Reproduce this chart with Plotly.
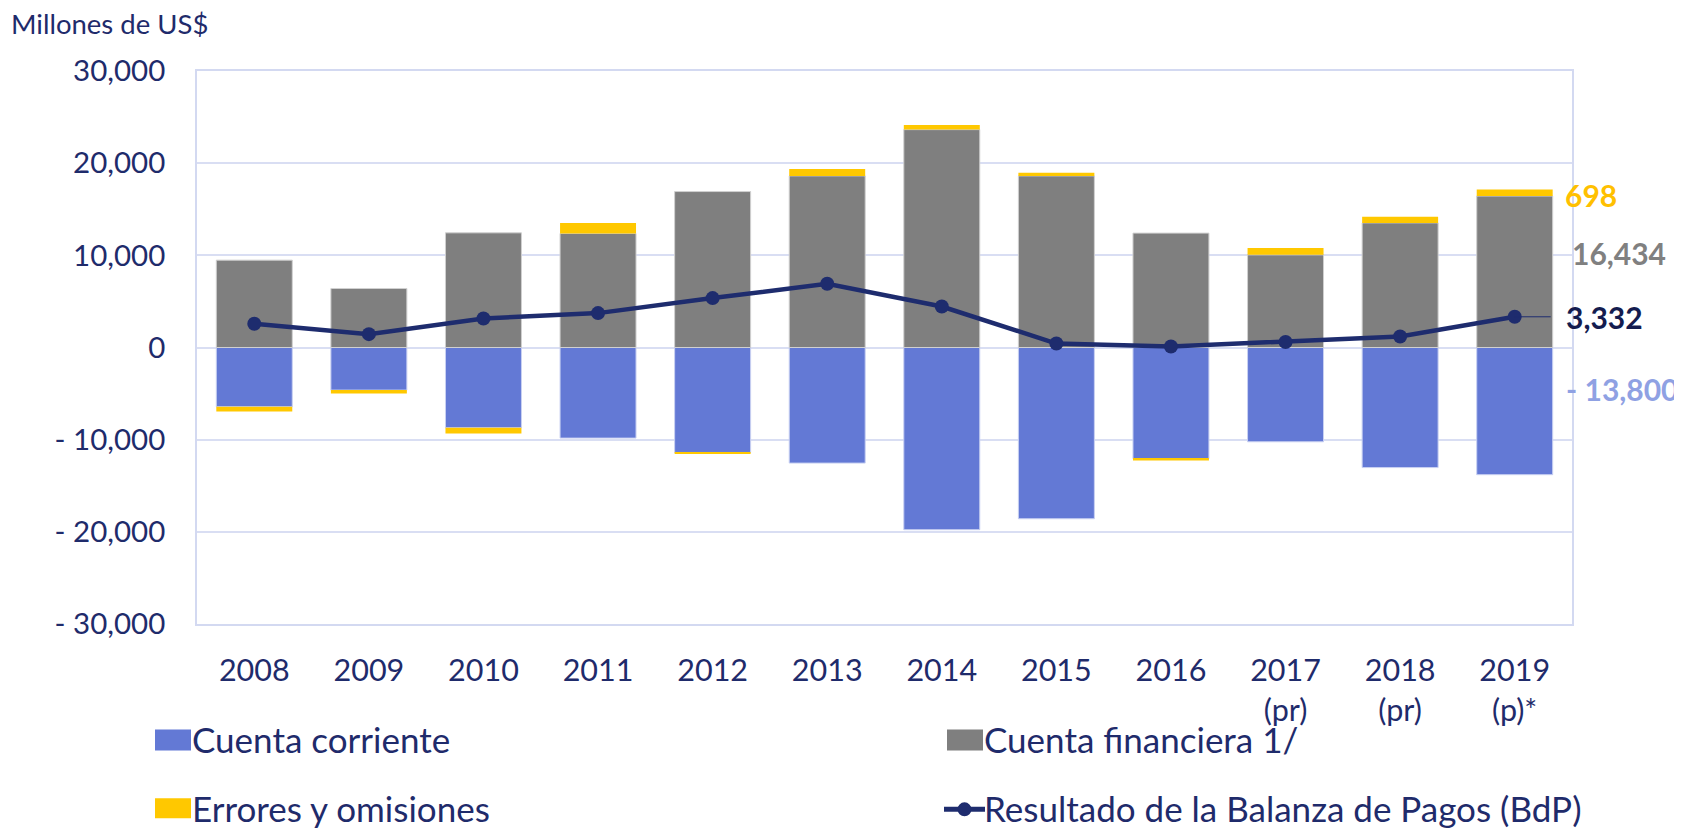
import plotly.graph_objects as go

# ---------------- data ----------------
categorias = ["2008", "2009", "2010", "2011", "2012", "2013", "2014", "2015",
              "2016", "2017<br>(pr)", "2018<br>(pr)", "2019<br>(p)*"]
cuenta_corriente = [-6430, -4620, -8710, -9830, -11390, -12540, -19770, -18580,
                    -12070, -10230, -13030, -13800]
cuenta_financiera = [9480, 6400, 12440, 12370, 16920, 18620, 23640, 18620,
                     12410, 10050, 13520, 16434]
errores_omisiones = [-510, -370, -620, 1150, -170, 760, 510, 330,
                     -200, 740, 660, 698]
resultado_bdp = [2570, 1450, 3150, 3730, 5360, 6910, 4450, 430,
                 110, 590, 1190, 3332]

y_tickvals = [30000, 20000, 10000, 0, -10000, -20000, -30000]
y_ticktext = ["30,000", "20,000", "10,000", "0", "- 10,000", "- 20,000", "- 30,000"]

nombres = ["Cuenta corriente", "Cuenta financiera 1/", "Errores y omisiones",
           "Resultado de la Balanza de Pagos (BdP)"]

# ---------------- style ----------------
FONT = "Lato"
NAVY = "#1F2B6B"
LINE_NAVY = "#1E2C6E"
BLUE = "#6379D5"
GRAY = "#7F7F7F"
GOLD = "#FFC800"
GRID = "#D9DEF3"

# the page body adds an 8px offset; lay the figure out in page pixels
OFF = 8
PAGE_W, PAGE_H = 1682, 828
W, H = PAGE_W - OFF, PAGE_H - OFF
PLOT_L, PLOT_R, PLOT_T, PLOT_B = 197, 1572, 71, 624.5   # page pixels
L, R, T, B = PLOT_L - OFF, PAGE_W - PLOT_R, PLOT_T - OFF, PAGE_H - PLOT_B
PW, PH = PLOT_R - PLOT_L, PLOT_B - PLOT_T


def px_x(x):
    return (x - PLOT_L) / PW


def px_y(y):
    return (PLOT_B - y) / PH


fig = go.Figure()
fig.add_trace(go.Bar(x=categorias, y=cuenta_corriente, name=nombres[0],
                     marker=dict(color=BLUE, line=dict(color="#C9D1F2", width=1))))
fig.add_trace(go.Bar(x=categorias, y=cuenta_financiera, name=nombres[1],
                     marker=dict(color=GRAY, line=dict(color="#D0D0D0", width=1))))
fig.add_trace(go.Bar(x=categorias, y=errores_omisiones, name=nombres[2],
                     marker=dict(color=GOLD, line=dict(color=GOLD, width=0))))
fig.add_trace(go.Scatter(x=categorias, y=resultado_bdp, name=nombres[3],
                         mode="lines+markers",
                         line=dict(color=LINE_NAVY, width=4.5),
                         marker=dict(color=LINE_NAVY, size=14)))

annotations = []
shapes = []

# y-axis unit title
annotations.append(dict(text="Millones de US$", xref="paper", yref="paper",
                        x=px_x(9), y=px_y(23), xanchor="left", yanchor="middle",
                        showarrow=False, font=dict(family=FONT, size=27.5, color=NAVY)))

# right-side value labels
annotations.append(dict(text="<b>698</b>", xref="paper", yref="paper",
                        x=px_x(1563), y=px_y(195), xanchor="left", yanchor="middle",
                        showarrow=False, font=dict(family=FONT, size=30, color="#FFC000")))
annotations.append(dict(text="<b>16,434</b>", xref="paper", yref="paper",
                        x=px_x(1570), y=px_y(253), xanchor="left", yanchor="middle",
                        showarrow=False, font=dict(family=FONT, size=30, color="#808080")))
annotations.append(dict(text="<b>- 13,800</b>", xref="paper", yref="paper",
                        x=px_x(1564), y=px_y(389), xanchor="left", yanchor="middle",
                        showarrow=False, font=dict(family=FONT, size=30, color="#8FA1E3")))
annotations.append(dict(text="<b>3,332</b>", xref="x", yref="y",
                        x=categorias[-1], y=resultado_bdp[-1],
                        ax=90, ay=0, showarrow=True, arrowhead=0, arrowwidth=1,
                        arrowcolor=LINE_NAVY, startstandoff=14,
                        font=dict(family=FONT, size=30, color="#141C4F")))

# custom legend (large swatches like the original)
leg_font = dict(family=FONT, size=35, color=NAVY)
legend_items = [
    (155, 191, 730, 751, BLUE, 190, 740, nombres[0]),
    (947, 983, 730, 751, GRAY, 982, 740, nombres[1]),
    (155, 191, 799, 819, GOLD, 190, 809, nombres[2]),
]
for x0, x1, y0, y1, col, tx, ty, name in legend_items:
    shapes.append(dict(type="rect", xref="paper", yref="paper",
                       x0=px_x(x0), x1=px_x(x1), y0=px_y(y1), y1=px_y(y0),
                       fillcolor=col, line=dict(width=0)))
    annotations.append(dict(text=name, xref="paper", yref="paper",
                            x=px_x(tx), y=px_y(ty), xanchor="left", yanchor="middle",
                            showarrow=False, font=leg_font))
# line + marker legend entry
shapes.append(dict(type="line", xref="paper", yref="paper",
                   x0=px_x(944), x1=px_x(985), y0=px_y(810), y1=px_y(810),
                   line=dict(color=LINE_NAVY, width=5)))
shapes.append(dict(type="circle", xref="paper", yref="paper",
                   x0=px_x(957.5), x1=px_x(971.5), y0=px_y(817), y1=px_y(803),
                   fillcolor=LINE_NAVY, line=dict(width=0)))
annotations.append(dict(text=nombres[3], xref="paper", yref="paper",
                        x=px_x(982), y=px_y(809), xanchor="left", yanchor="middle",
                        showarrow=False, font=leg_font))

fig.update_layout(
    width=W, height=H,
    margin=dict(l=L, r=R, t=T, b=B),
    barmode="relative",
    bargap=0.337,
    showlegend=False,
    paper_bgcolor="white",
    plot_bgcolor="white",
    font=dict(family=FONT, color=NAVY),
    annotations=annotations,
    shapes=shapes,
)
fig.update_yaxes(range=[-30000, 30000], tickvals=y_tickvals, ticktext=y_ticktext,
                 tickfont=dict(family=FONT, size=29.5, color=NAVY),
                 showgrid=True, gridcolor=GRID, gridwidth=1.5,
                 zeroline=True, zerolinecolor=GRID, zerolinewidth=2,
                 showline=True, mirror=True, linecolor="#D3D9F1", linewidth=1.5,
                 ticks="", ticklabelstandoff=24)
fig.update_xaxes(range=[-0.5, len(categorias) - 0.5],
                 tickfont=dict(family=FONT, size=30.5, color=NAVY),
                 showgrid=False, showline=True, mirror=True,
                 linecolor="#D3D9F1", linewidth=1.5, ticks="",
                 ticklabelstandoff=19)

fig.write_html("out.html")
